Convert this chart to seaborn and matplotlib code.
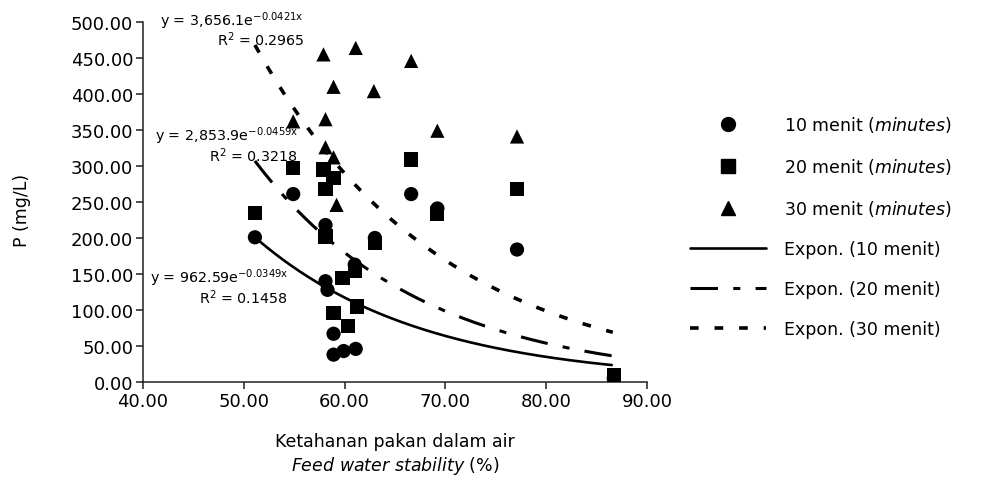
import numpy as np
import pandas as pd
import matplotlib
matplotlib.use("Agg")
import matplotlib.pyplot as plt
from matplotlib.lines import Line2D
import seaborn as sns

# Titik data: ketahanan pakan (%) vs P (mg/L)
x_10 = [51.1, 54.9, 58.1, 58.1, 58.3, 58.9, 58.9, 59.9, 61.1, 61.0, 63.0, 66.6, 69.2, 77.1, 86.7]
y_10 = [201, 261, 218, 140, 128, 67, 38, 43, 46, 163, 200, 261, 241, 184, 5]

x_20 = [51.1, 54.9, 57.9, 58.9, 58.1, 58.1, 59.8, 58.9, 60.3, 61.2, 61.0, 63.0, 66.6, 69.2, 77.1, 86.7]
y_20 = [235, 297, 295, 283, 268, 202, 144, 96, 78, 105, 155, 193, 309, 234, 268, 10]

x_30 = [54.9, 57.9, 58.1, 58.1, 58.9, 58.9, 59.2, 61.1, 62.9, 66.6, 69.2, 77.1]
y_30 = [362, 455, 365, 326, 410, 312, 246, 464, 404, 446, 349, 341]

# garis tren eksponensial seperti tergambar: y = a * exp(-b x)
trend_a = [4448, 6655, 7353]
trend_b = [0.0606, 0.0602, 0.0539]
trend_x = [(51.1, 86.5), (51.1, 86.7), (51.1, 86.6)]

eq_text = ["y = 962.59e$^{\\mathregular{-0.0349x}}$",
           "y = 2,853.9e$^{\\mathregular{-0.0459x}}$",
           "y = 3,656.1e$^{\\mathregular{-0.0421x}}$"]
r2_text = ["R$^{\\mathregular{2}}$ = 0.1458", "R$^{\\mathregular{2}}$ = 0.3218", "R$^{\\mathregular{2}}$ = 0.2965"]

labels = ["10 menit ($\\it{minutes}$)", "20 menit ($\\it{minutes}$)", "30 menit ($\\it{minutes}$)"]
trend_labels = ["Expon. (10 menit)", "Expon. (20 menit)", "Expon. (30 menit)"]

x_ticks = [40, 50, 60, 70, 80, 90]
y_ticks = [0, 50, 100, 150, 200, 250, 300, 350, 400, 450, 500]

sns.set_theme(style="white")
plt.rcParams["font.family"] = ["DejaVu Sans"]
plt.rcParams["mathtext.fontset"] = "dejavusans"
plt.rcParams["text.color"] = "black"

df = pd.concat([
    pd.DataFrame({"x": x_10, "y": y_10, "grup": labels[0]}),
    pd.DataFrame({"x": x_20, "y": y_20, "grup": labels[1]}),
    pd.DataFrame({"x": x_30, "y": y_30, "grup": labels[2]}),
])

fig = plt.figure(figsize=(9.85, 4.85), dpi=100)
ax = fig.add_axes([0.1452, 0.2103, 0.5117, 0.7423])

markers = {labels[0]: "o", labels[1]: "s", labels[2]: "^"}
sns.scatterplot(data=df, x="x", y="y", style="grup", markers=markers, color="black",
                s=105, edgecolor="black", linewidth=0, ax=ax, legend=False, zorder=3)

styles = [dict(linestyle="-", linewidth=1.9),
          dict(linestyle=(0, (9, 5, 2.3, 5)), linewidth=2.2),
          dict(linestyle=(0, (2.4, 4.4)), linewidth=2.6)]

for a, b, (x0, x1), st in zip(trend_a, trend_b, trend_x, styles):
    xs = np.linspace(x0, x1, 200)
    sns.lineplot(x=xs, y=a * np.exp(-b * xs), color="black", ax=ax, zorder=2, **st)

ax.set_xlim(40, 90)
ax.set_ylim(0, 500)
ax.set_xticks(x_ticks)
ax.set_yticks(y_ticks)
ax.set_xticklabels([f"{v:.2f}" for v in x_ticks])
ax.set_yticklabels([f"{v:.2f}" for v in y_ticks])
ax.tick_params(axis="both", direction="out", length=5, width=1.1, color="#222222",
               labelsize=13, labelcolor="black", bottom=True, left=True, pad=2)
for side in ["top", "right"]:
    ax.spines[side].set_visible(False)
for side in ["left", "bottom"]:
    ax.spines[side].set_color("#222222")
    ax.spines[side].set_linewidth(1.1)
ax.set_xlabel("")
ax.set_ylabel("")

# persamaan tren
eq_pos = [(150, 278, 288, 298), (155, 136, 298, 156), (160, 21, 304, 40)]
for (ex, ey, rx, ry), e, r in zip(eq_pos, eq_text, r2_text):
    fig.text(ex / 985, 1 - ey / 485, e, fontsize=10.3, ha="left", va="center")
    fig.text(rx / 985, 1 - ry / 485, r, fontsize=10.3, ha="right", va="center")

fig.text(22 / 985, 1 - 210 / 485, "P (mg/L)", rotation=90, fontsize=12.5, ha="center", va="center")
fig.text(395 / 985, 1 - 442 / 485, "Ketahanan pakan dalam air", fontsize=12.5, ha="center", va="center")
fig.text(395 / 985, 1 - 466 / 485, "$\\it{Feed\\ water\\ stability}$ (%)", fontsize=12.5,
         ha="center", va="center")

handles = [Line2D([], [], marker=m, color="black", linestyle="none", markersize=10)
           for m in ["o", "s", "^"]]
handles += [Line2D([], [], color="black", **st) for st in styles]
fig.legend(handles, labels + trend_labels, loc="upper left", bbox_to_anchor=(690 / 985, 1 - 115 / 485),
           frameon=False, fontsize=12.5, handlelength=4.4, handletextpad=1.0,
           labelspacing=1.27, borderpad=0, borderaxespad=0)

fig.savefig("out.png", dpi=100)
